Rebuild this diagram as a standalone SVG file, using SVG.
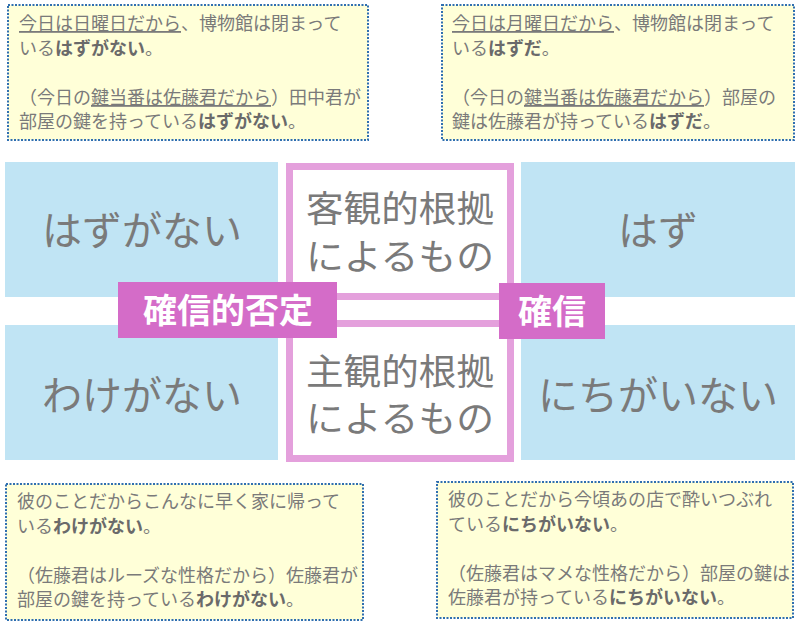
<svg xmlns="http://www.w3.org/2000/svg" width="800" height="627" viewBox="0 0 800 627">
<style>
.note{fill:#ffffd8;stroke:#2f6fb0;stroke-width:2;stroke-dasharray:2 1.5}
.nt{font-family:"Noto Sans CJK JP","Liberation Sans",sans-serif;font-size:18px;fill:#7a7a7a}
.b{font-weight:bold;fill:#6a6a6a}
.u{text-decoration:underline}
.blue{fill:#c0e4f4}
.big{font-family:"Noto Sans CJK JP",sans-serif;font-size:40px;fill:#7a7a7a;text-anchor:middle}
.mid{font-family:"Noto Sans CJK JP",sans-serif;font-size:36px;fill:#7a7a7a;text-anchor:middle}
.frame{fill:#fff;stroke:#e4a0dc;stroke-width:7}
.lab{fill:#d46cc8}
.lt{font-family:"Noto Sans CJK JP",sans-serif;font-size:34px;font-weight:bold;fill:#fff;text-anchor:middle}
</style>
<g id="blue-tl"><rect class="blue" x="5" y="162" width="273" height="135"/><text class="big" x="142" y="245">はずがない</text></g>
<g id="blue-tr"><rect class="blue" x="521" y="162" width="274" height="135"/><text class="big" x="658" y="245">はず</text></g>
<g id="blue-bl"><rect class="blue" x="5" y="325" width="273" height="135"/><text class="big" x="142" y="410">わけがない</text></g>
<g id="blue-br"><rect class="blue" x="521" y="325" width="274" height="135"/><text class="big" x="658" y="410">にちがいない</text></g>
<g id="obj"><rect class="frame" x="289.5" y="166.5" width="221" height="130"/><text class="mid" x="400" y="222" textLength="188" lengthAdjust="spacingAndGlyphs">客観的根拠</text><text class="mid" x="400" y="270" textLength="188" lengthAdjust="spacingAndGlyphs">によるもの</text></g>
<g id="subj"><rect class="frame" x="289.5" y="323.5" width="221" height="135"/><text class="mid" x="400" y="385" textLength="188" lengthAdjust="spacingAndGlyphs">主観的根拠</text><text class="mid" x="400" y="432" textLength="188" lengthAdjust="spacingAndGlyphs">によるもの</text></g>
<g id="connectors"></g>
<g id="label-neg"><rect class="lab" x="118" y="282" width="219" height="56"/><text class="lt" x="228" y="323">確信的否定</text></g>
<g id="label-pos"><rect class="lab" x="499" y="283" width="106" height="56"/><text class="lt" x="552" y="324">確信</text></g>
<g id="note-tl"><rect class="note" x="8" y="5" width="360" height="135"/>
<text class="nt" x="19" y="30"><tspan class="u">今日は日曜日だから</tspan>、博物館は閉まって</text>
<text class="nt" x="19" y="55">いる<tspan class="b">はずがない</tspan>。</text>
<text class="nt" x="19" y="104">（今日の<tspan class="u">鍵当番は佐藤君だから</tspan>）田中君が</text>
<text class="nt" x="19" y="128">部屋の鍵を持っている<tspan class="b">はずがない</tspan>。</text></g>
<g id="note-tr"><rect class="note" x="442" y="5" width="352" height="135"/>
<text class="nt" x="452" y="30"><tspan class="u">今日は月曜日だから</tspan>、博物館は閉まって</text>
<text class="nt" x="452" y="55">いる<tspan class="b">はずだ</tspan>。</text>
<text class="nt" x="452" y="104">（今日の<tspan class="u">鍵当番は佐藤君だから</tspan>）部屋の</text>
<text class="nt" x="452" y="128">鍵は佐藤君が持っている<tspan class="b">はずだ</tspan>。</text></g>
<g id="note-bl"><rect class="note" x="6" y="484" width="357" height="136"/>
<text class="nt" x="17" y="508">彼のことだからこんなに早く家に帰って</text>
<text class="nt" x="17" y="533">いる<tspan class="b">わけがない</tspan>。</text>
<text class="nt" x="17" y="582">（佐藤君はルーズな性格だから）佐藤君が</text>
<text class="nt" x="17" y="606">部屋の鍵を持っている<tspan class="b">わけがない</tspan>。</text></g>
<g id="note-br"><rect class="note" x="437" y="482" width="356" height="136"/>
<text class="nt" x="448" y="506">彼のことだから今頃あの店で酔いつぶれ</text>
<text class="nt" x="448" y="531">ている<tspan class="b">にちがいない</tspan>。</text>
<text class="nt" x="448" y="580">（佐藤君はマメな性格だから）部屋の鍵は</text>
<text class="nt" x="448" y="604">佐藤君が持っている<tspan class="b">にちがいない</tspan>。</text></g>
</svg>
